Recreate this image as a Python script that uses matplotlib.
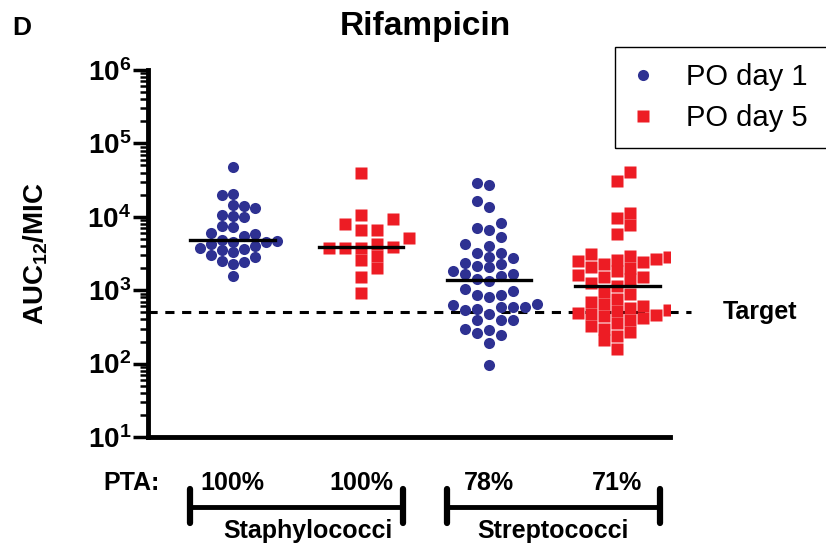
import numpy as np
import matplotlib
matplotlib.use('Agg')
import matplotlib.pyplot as plt
from matplotlib import transforms
from matplotlib.lines import Line2D
from matplotlib.patches import Rectangle
from matplotlib.ticker import LogLocator, FuncFormatter, NullFormatter

plt.rcParams['font.family'] = ['Liberation Sans', 'DejaVu Sans']
plt.rcParams['mathtext.fontset'] = 'custom'
plt.rcParams['mathtext.rm'] = 'Liberation Sans:bold'
plt.rcParams['mathtext.bf'] = 'Liberation Sans:bold'
plt.rcParams['mathtext.it'] = 'Liberation Sans:bold'

# ---- data (AUC12/MIC) ----
title = 'Rifampicin'
series = ['PO day 1', 'PO day 5']
groups = ['Staphylococci', 'Streptococci']
pta = ['100%', '100%', '78%', '71%']
target = 500

staph_day1 = [47000, 20500, 20000, 14500, 14000, 13000, 10500, 10300, 10000,
              7500, 7200, 6000, 5800, 5500, 4900, 4700, 4600, 4500, 4300,
              4000, 3800, 3600, 3500, 3300, 3000, 2800, 2500, 2400, 2300, 1550]
staph_day5 = [40000, 10500, 9400, 8000, 6700, 6700, 5200, 4200, 3900, 3800,
              3800, 3700, 2900, 2550, 2000, 1500, 930]
strep_day1 = [29000, 27000, 16600, 13700, 8300, 7100, 6700, 5370, 4320, 4010,
              3260, 3170, 2850, 2730, 2320, 2280, 2150, 2040, 1840, 1660,
              1660, 1580, 1420, 1350, 1040, 970, 850, 850, 805, 655, 620,
              590, 590, 590, 560, 535, 480, 390, 390, 390, 300, 285, 263,
              245, 193, 96]
strep_day5 = [41000, 31000, 11300, 9500, 7800, 5800, 3100, 2900, 2800, 2700,
              2600, 2500, 2400, 2300, 2100, 2000, 1800, 1600, 1500, 1500,
              1400, 1250, 1130, 950, 880, 760, 700, 650, 600, 570, 540, 520,
              490, 480, 460, 440, 420, 390, 360, 330, 300, 270, 240, 210, 160]

data = [staph_day1, staph_day5, strep_day1, strep_day5]
positions = [1, 2, 3, 4]
colors = ['#2E3192', '#ED1C24', '#2E3192', '#ED1C24']
markers = ['o', 's', 'o', 's']
msize = [8, 8.6, 8, 8.6]          # points
col_step = [11, 16, 12, 13]       # swarm column spacing, pixels

fig = plt.figure(figsize=(8.26, 5.45), dpi=100)
ax = fig.add_axes([148/826, 1-437/545, (670-148)/826, (437-70)/545])
ax.set_yscale('log')
ax.set_ylim(10, 1e6)
ax.set_xlim(0.34, 4.41)


def swarm_x(xc, vals, step_px, size_px):
    """simple column beeswarm: returns x positions in data units"""
    vals = np.asarray(vals, float)
    ypix = ax.transData.transform(np.column_stack([np.full(len(vals), xc), vals]))[:, 1]
    order = np.argsort(ypix)
    cols = {}
    offs = np.zeros(len(vals))
    for n, i in enumerate(order):
        sign = 1 if n % 2 == 0 else -1
        cands = [0]
        for j in range(1, 30):
            cands += [sign * j, -sign * j]
        for c in cands:
            if all(abs(ypix[i] - yy) >= size_px for yy in cols.get(c, [])):
                cols.setdefault(c, []).append(ypix[i])
                offs[i] = c * step_px
                break
    x0 = ax.transData.transform((xc, 1))[0]
    pts = np.column_stack([x0 + offs, np.ones(len(vals))])
    return ax.transData.inverted().transform(pts)[:, 0]


for pos, vals, c, m, ms, st in zip(positions, data, colors, markers, msize, col_step):
    xs = swarm_x(pos, vals, st, ms * 100 / 72 * 0.95)
    ax.plot(xs, vals, linestyle='none', marker=m, ms=ms, color=c, mec='none', zorder=3)
    med = np.median(vals)
    ax.plot([pos - 0.33, pos + 0.33], [med, med], color='black', lw=2.4, zorder=4)

# target line
ax.plot([0.34, 4.57], [target, target], color='black', lw=2.2,
        linestyle=(0, (3, 2.5)), clip_on=False, zorder=2)
ax.text(4.82, target, 'Target', fontsize=18, fontweight='bold', va='center', ha='left')

# axes styling
for s in ['top', 'right']:
    ax.spines[s].set_visible(False)
ax.spines['left'].set_linewidth(3.5)
ax.spines['bottom'].set_linewidth(3.5)
ax.set_xticks([])
ax.yaxis.set_major_locator(LogLocator(base=10, numticks=10))
ax.yaxis.set_minor_locator(LogLocator(base=10, subs=np.arange(2, 10), numticks=20))
ax.yaxis.set_minor_formatter(NullFormatter())
ax.yaxis.set_major_formatter(FuncFormatter(lambda v, p: r'$\mathbf{10^{%d}}$' % round(np.log10(v))))
ax.tick_params(axis='y', which='major', length=11, width=2.5, labelsize=20, pad=1)
ax.tick_params(axis='y', which='minor', length=5.5, width=1.8)
ax.set_ylabel(r'AUC$_{12}$/MIC', fontsize=20, fontweight='bold')
ax.yaxis.set_label_coords(-0.188, 0.5)

# title and panel letter
fig.text(425/826, 1-27/545, title, fontsize=24, fontweight='bold', ha='center', va='center')
fig.text(12/826, 1-28/545, 'D', fontsize=19, fontweight='bold', ha='left', va='center')

# legend (frame drawn by hand so it runs off the right edge like the original)
handles = [Line2D([], [], linestyle='none', marker='o', ms=8, color=colors[0], mec='none'),
           Line2D([], [], linestyle='none', marker='s', ms=8, color=colors[1], mec='none')]
leg = fig.legend(handles, series, loc='upper left', bbox_to_anchor=(615/826, 1-50/545),
                 fontsize=21, frameon=False, handlelength=1.0, handletextpad=1.0,
                 borderpad=0.45, labelspacing=0.45, borderaxespad=0)
fig.add_artist(Rectangle((615/826, 1-148/545), 240/826, 101/545,
                         transform=fig.transFigure, fill=False,
                         edgecolor='black', linewidth=1.0))

# PTA row and brackets below axis
bt = transforms.blended_transform_factory(ax.transData, fig.transFigure)
y_pta = 1 - 483/545
fig.text(103/826, y_pta, 'PTA:', fontsize=18, fontweight='bold', ha='left', va='center')
for pos, p in zip(positions, pta):
    ax.text(pos, y_pta, p, transform=bt, fontsize=18, fontweight='bold',
            ha='center', va='center', clip_on=False)

y_bar = 1 - 507/545
y_cap0, y_cap1 = 1 - 489/545, 1 - 523/545
label_shift = [0.09, 0.0]
for g, (a, b), dx in zip(groups, [(1, 2), (3, 4)], label_shift):
    x0, x1 = a - 0.33, b + 0.33
    ax.plot([x0, x1], [y_bar, y_bar], transform=bt, color='black', lw=3.5,
            clip_on=False, solid_capstyle='butt')
    for xx in (x0, x1):
        ax.plot([xx, xx], [y_cap0, y_cap1], transform=bt, color='black', lw=4.5,
                clip_on=False, solid_capstyle='round')
    ax.text((a + b) / 2 + dx, 1 - 531/545, g, transform=bt, fontsize=18, fontweight='bold',
            ha='center', va='center', clip_on=False)

fig.savefig('out.png', dpi=100)
